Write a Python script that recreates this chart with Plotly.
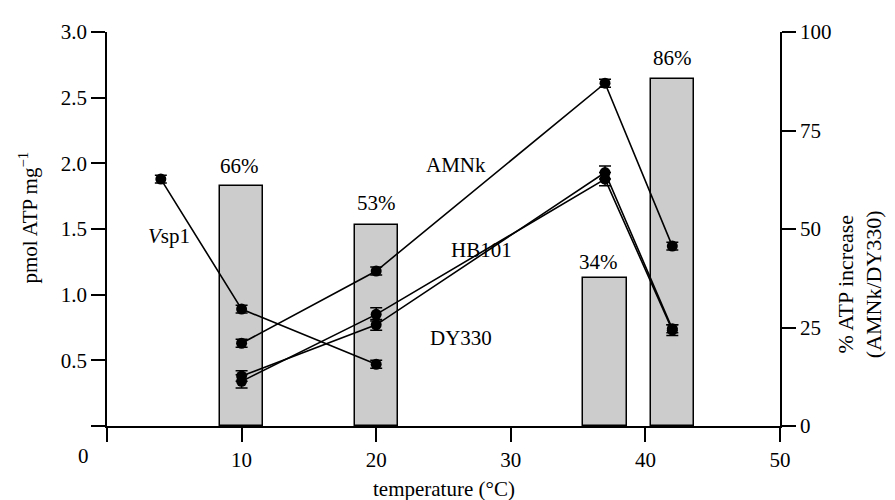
import plotly.graph_objects as go

# temperatures
temp_vsp1 = [4, 10, 20]
temp_ecoli = [10, 20, 37, 42]
bar_temps = [10, 20, 37, 42]

# pmol ATP mg^-1
vsp1 = [1.88, 0.89, 0.47]
vsp1_err = [0.03, 0.03, 0.03]
amnk = [0.63, 1.18, 2.61, 1.37]
amnk_err = [0.03, 0.03, 0.03, 0.03]
hb101 = [0.34, 0.85, 1.88, 0.73]
hb101_err = [0.05, 0.05, 0.05, 0.04]
dy330 = [0.38, 0.77, 1.93, 0.74]
dy330_err = [0.04, 0.04, 0.05, 0.03]

# % ATP increase (bars, right axis)
bar_values = [61, 51, 37.5, 88]
bar_labels = ["66%", "53%", "34%", "86%"]
bar_label_pos = [(9.85, 1.98), (20, 1.70), (36.5, 1.25), (42, 2.80)]

x_ticks = [10, 20, 30, 40, 50]
yl_ticks = [0.5, 1.0, 1.5, 2.0, 2.5, 3.0]
yl_ticktext = ["0.5", "1.0", "1.5", "2.0", "2.5", "3.0"]
yr_ticks = [0, 25, 50, 75, 100]

FONT = "Liberation Serif"
FS = 21

fig = go.Figure()

fig.add_trace(go.Bar(
    x=bar_temps, y=bar_values, width=3.2, yaxis="y",
    marker=dict(color="#cccccc", line=dict(color="black", width=1.5)),
    showlegend=False, hoverinfo="skip"))

def add_series(xs, ys, errs):
    fig.add_trace(go.Scatter(
        x=xs, y=ys, yaxis="y2", mode="lines+markers",
        line=dict(color="black", width=1.6),
        marker=dict(color="black", size=11),
        error_y=dict(type="data", array=errs, color="black", thickness=1.5, width=6),
        showlegend=False))

add_series(temp_vsp1, vsp1, vsp1_err)
add_series(temp_ecoli, dy330, dy330_err)
add_series(temp_ecoli, hb101, hb101_err)
add_series(temp_ecoli, amnk, amnk_err)

annotations = []
for (ax, ay), t in zip(bar_label_pos, bar_labels):
    annotations.append(dict(x=ax, y=ay, xref="x", yref="y2", text=t, showarrow=False,
                            font=dict(family=FONT, size=FS, color="black")))

series_labels = [
    (25.9, 1.99, "AMNk"),
    (27.8, 1.34, "HB101"),
    (26.3, 0.67, "DY330"),
    (4.6, 1.45, "<i>V</i>sp1"),
]
for ax, ay, t in series_labels:
    annotations.append(dict(x=ax, y=ay, xref="x", yref="y2", text=t, showarrow=False,
                            font=dict(family=FONT, size=FS, color="black")))

# x tick label "0" is offset to the left of its tick
annotations.append(dict(x=0, y=0, xref="x", yref="paper", text="0", showarrow=False,
                        xshift=-24, yshift=-44, font=dict(family=FONT, size=FS, color="black")))
# axis titles
annotations.append(dict(x=0.5, y=-0.16, xref="paper", yref="paper", yanchor="middle",
                        text="temperature (°C)", showarrow=False,
                        font=dict(family=FONT, size=FS, color="black")))
annotations.append(dict(x=-0.14, y=0.53, xref="paper", yref="paper", text="pmol ATP mg<sup>−1</sup>",
                        textangle=-90, showarrow=False, font=dict(family=FONT, size=FS, color="black")))
annotations.append(dict(x=1.162, y=0.36, xref="paper", yref="paper",
                        text="% ATP increase<br>(AMNk/DY330)", textangle=-90, showarrow=False,
                        font=dict(family=FONT, size=22, color="black")))

axis_common = dict(showgrid=False, zeroline=False, showline=True, linecolor="black", linewidth=1.5,
                   ticks="outside", ticklen=14, tickwidth=1.5, tickcolor="black",
                   tickfont=dict(family=FONT, size=FS, color="black"))
minor0 = dict(tickmode="array", tickvals=[0], ticks="outside", ticklen=14, tickwidth=1.5,
              tickcolor="black", showgrid=False)

fig.update_layout(
    width=895, height=500,
    margin=dict(l=99, r=123, t=15, b=82),
    paper_bgcolor="white", plot_bgcolor="white",
    bargap=0,
    xaxis=dict(range=[0, 50], tickvals=x_ticks, minor=minor0, **axis_common),
    yaxis=dict(range=[0, 100], side="right", tickvals=yr_ticks, **axis_common),
    yaxis2=dict(range=[0, 3.0], side="left", overlaying="y", tickvals=yl_ticks,
                ticktext=yl_ticktext, minor=minor0, **axis_common),
    annotations=annotations,
)

fig.write_html("out.html")
